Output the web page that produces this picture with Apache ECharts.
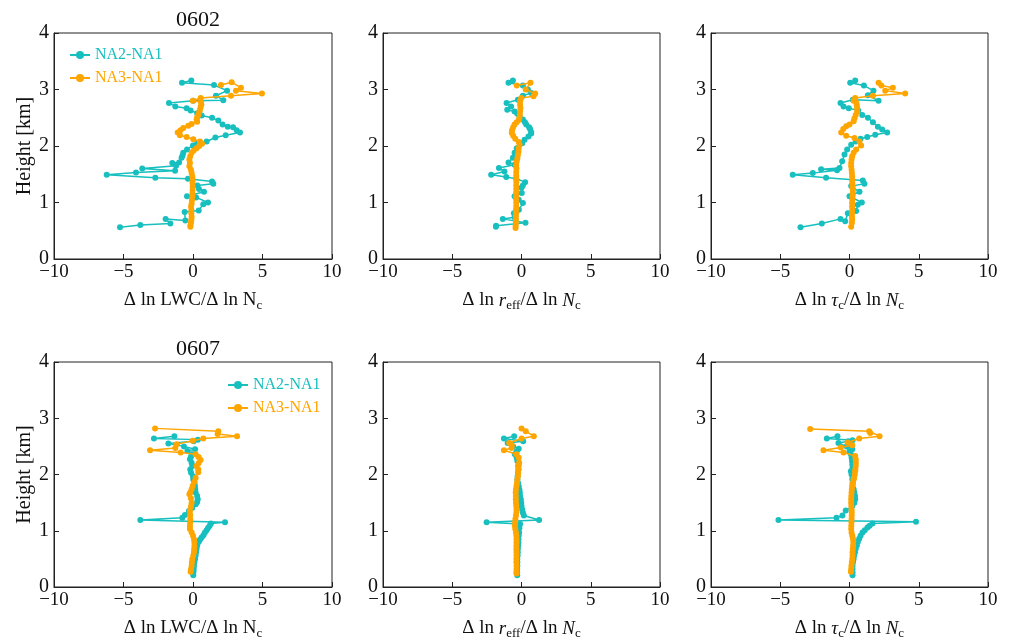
<!DOCTYPE html>
<html>
<head>
<meta charset="utf-8">
<script src="https://cdn.jsdelivr.net/npm/echarts@6/dist/echarts.min.js"></script>
<style>
  html, body { margin: 0; padding: 0; background: #fff; }
  #main { width: 1012px; height: 641px; }
</style>
</head>
<body>
<div id="main"></div>
<script>
// profiles: [value, height km]
var lwc0602NA2 = [[-0.12,3.16],[-0.79,3.12],[1.51,3.08],[2.45,2.98],[1.65,2.89],[2.18,2.81],[0.02,2.80],[-1.73,2.76],[-1.27,2.70],[-0.46,2.67],[-0.17,2.63],[0.3,2.58],[0.62,2.54],[1.37,2.50],[1.82,2.45],[2.13,2.38],[2.5,2.34],[2.88,2.33],[3.14,2.28],[3.38,2.24],[2.35,2.19],[1.61,2.15],[0.98,2.08],[0.29,2.04],[0.0,2.01],[-0.43,1.94],[-0.70,1.88],[-0.75,1.83],[-0.82,1.79],[-1.0,1.71],[-1.49,1.70],[-1.22,1.65],[-3.65,1.60],[-1.29,1.56],[-4.1,1.53],[-6.21,1.49],[-2.71,1.44],[-0.36,1.42],[1.37,1.37],[1.46,1.33],[0.31,1.30],[0.43,1.24],[0.79,1.19],[-0.43,1.11],[0.22,1.09],[1.08,1.00],[0.74,0.97],[0.41,0.86],[-0.6,0.83],[-0.55,0.68],[-1.97,0.71],[-1.63,0.63],[-3.79,0.60],[-5.25,0.56]];
var lwc0602NA3 = [[2.01,3.08],[2.78,3.13],[3.45,3.03],[3.09,2.98],[4.96,2.93],[2.73,2.89],[0.55,2.85],[-0.02,2.80],[0.58,2.78],[0.6,2.73],[0.55,2.69],[0.5,2.64],[0.45,2.60],[0.38,2.55],[0.3,2.51],[0.26,2.47],[0.3,2.43],[-0.1,2.39],[-0.34,2.36],[-0.7,2.32],[-0.9,2.28],[-1.1,2.24],[-0.94,2.19],[-0.46,2.16],[0.02,2.12],[0.5,2.08],[0.65,2.04],[0.45,2.0],[0.26,1.96],[0.05,1.92],[-0.1,1.88],[-0.2,1.82],[-0.26,1.76],[-0.22,1.70],[-0.26,1.64],[-0.15,1.58],[-0.1,1.52],[-0.05,1.46],[-0.02,1.40],[-0.03,1.34],[-0.02,1.28],[-0.03,1.22],[-0.04,1.16],[-0.05,1.10],[-0.08,1.04],[-0.1,0.98],[-0.14,0.93],[-0.12,0.87],[-0.12,0.81],[-0.1,0.75],[-0.12,0.70],[-0.14,0.65],[-0.18,0.60],[-0.19,0.57]];
var reff0602NA2 = [[-0.62,3.16],[-0.94,3.12],[0.1,3.07],[0.46,3.0],[0.7,2.94],[0.1,2.89],[-0.26,2.82],[-1.08,2.76],[-0.75,2.70],[-1.03,2.64],[-0.5,2.61],[-0.3,2.57],[-0.14,2.53],[0.1,2.47],[0.25,2.42],[0.34,2.38],[0.55,2.33],[0.62,2.30],[0.7,2.25],[0.7,2.22],[0.5,2.17],[0.22,2.11],[0.05,2.05],[-0.34,1.96],[-0.5,1.88],[-0.62,1.79],[-0.94,1.71],[-0.5,1.67],[-1.63,1.61],[-1.23,1.55],[-2.19,1.49],[-1.1,1.45],[-0.38,1.42],[0.26,1.36],[0.1,1.30],[0.0,1.26],[0.02,1.17],[-0.5,1.11],[-0.2,1.05],[0.1,0.99],[-0.19,0.87],[-0.55,0.81],[-0.5,0.74],[-1.35,0.71],[0.29,0.64],[-1.83,0.59],[-1.85,0.57]];
var reff0602NA3 = [[-0.34,3.07],[0.65,3.12],[0.3,3.0],[0.99,2.93],[0.87,2.88],[-0.02,2.85],[-0.1,2.79],[-0.1,2.73],[-0.08,2.67],[-0.1,2.61],[-0.12,2.55],[-0.15,2.50],[-0.19,2.46],[-0.35,2.42],[-0.5,2.38],[-0.6,2.33],[-0.68,2.28],[-0.7,2.23],[-0.6,2.18],[-0.45,2.13],[-0.2,2.07],[-0.14,2.02],[-0.2,1.96],[-0.22,1.90],[-0.26,1.84],[-0.3,1.78],[-0.35,1.72],[-0.38,1.66],[-0.36,1.60],[-0.38,1.54],[-0.38,1.48],[-0.38,1.42],[-0.37,1.36],[-0.38,1.30],[-0.38,1.24],[-0.38,1.18],[-0.38,1.12],[-0.39,1.06],[-0.38,1.00],[-0.38,0.94],[-0.39,0.88],[-0.39,0.82],[-0.4,0.76],[-0.4,0.70],[-0.41,0.64],[-0.42,0.59],[-0.43,0.55]];
var tau0602NA2 = [[0.41,3.16],[0.05,3.12],[1.04,3.07],[1.73,2.98],[1.33,2.90],[2.1,2.80],[0.24,2.82],[-0.65,2.76],[-0.43,2.70],[-0.05,2.67],[0.63,2.63],[0.92,2.55],[1.33,2.50],[1.69,2.42],[2.05,2.34],[2.36,2.29],[2.72,2.24],[1.86,2.20],[1.28,2.16],[0.8,2.13],[0.45,2.08],[0.12,2.02],[-0.17,1.94],[-0.36,1.85],[-0.53,1.73],[-0.72,1.61],[-2.05,1.59],[-0.9,1.57],[-2.65,1.52],[-4.1,1.49],[-1.69,1.44],[0.96,1.39],[1.08,1.33],[0.12,1.29],[0.72,1.19],[0.0,1.11],[0.89,1.00],[0.6,0.96],[0.48,0.85],[-0.12,0.81],[-0.31,0.67],[-0.65,0.71],[-2.0,0.63],[-3.54,0.56]];
var tau0602NA3 = [[2.1,3.12],[2.3,3.07],[3.13,3.03],[2.58,2.98],[4.02,2.93],[1.69,2.89],[0.41,2.85],[0.3,2.80],[0.5,2.76],[0.53,2.72],[0.55,2.67],[0.55,2.61],[0.45,2.55],[0.36,2.49],[0.3,2.44],[0.0,2.38],[-0.24,2.35],[-0.45,2.30],[-0.6,2.24],[-0.24,2.18],[0.36,2.14],[0.72,2.08],[0.84,2.01],[0.48,1.94],[0.3,1.88],[0.19,1.82],[0.15,1.76],[0.12,1.70],[0.12,1.64],[0.15,1.58],[0.17,1.52],[0.19,1.46],[0.19,1.40],[0.2,1.34],[0.22,1.28],[0.24,1.22],[0.24,1.17],[0.22,1.11],[0.2,1.05],[0.19,0.99],[0.19,0.93],[0.2,0.87],[0.19,0.81],[0.18,0.75],[0.19,0.70],[0.17,0.64],[0.12,0.57]];
var lwc0607NA2 = [[-1.34,2.68],[-2.81,2.64],[0.35,2.62],[0.05,2.59],[-1.77,2.55],[-0.65,2.50],[0.15,2.45],[-0.4,2.42],[-0.1,2.36],[-0.15,2.31],[-0.22,2.27],[-0.1,2.21],[-0.05,2.15],[-0.2,2.09],[-0.14,2.03],[0.0,1.97],[0.02,1.91],[0.1,1.85],[0.14,1.80],[0.16,1.74],[0.19,1.68],[0.3,1.62],[0.34,1.56],[0.3,1.51],[0.2,1.47],[-0.05,1.41],[-0.29,1.35],[-0.58,1.28],[-0.77,1.23],[-3.79,1.19],[2.30,1.15],[1.29,1.13],[1.2,1.09],[1.08,1.05],[0.98,1.01],[0.86,0.97],[0.75,0.92],[0.62,0.88],[0.5,0.84],[0.41,0.80],[0.3,0.74],[0.26,0.68],[0.22,0.62],[0.19,0.56],[0.15,0.50],[0.1,0.44],[0.07,0.38],[0.05,0.32],[0.04,0.27],[0.02,0.21]];
var lwc0607NA3 = [[-2.73,2.82],[1.82,2.77],[1.77,2.72],[3.17,2.68],[0.74,2.64],[-0.02,2.60],[-1.17,2.54],[-1.27,2.47],[-3.09,2.43],[-0.89,2.39],[0.19,2.36],[0.4,2.31],[0.55,2.26],[0.4,2.20],[0.26,2.15],[0.38,2.09],[0.38,2.04],[0.19,1.94],[0.1,1.87],[-0.02,1.80],[-0.1,1.74],[-0.2,1.68],[-0.26,1.65],[-0.15,1.58],[-0.1,1.50],[-0.15,1.43],[-0.22,1.35],[-0.2,1.28],[-0.2,1.21],[-0.21,1.14],[-0.22,1.08],[-0.22,1.03],[-0.1,0.97],[0.0,0.91],[0.07,0.85],[0.1,0.79],[0.1,0.73],[0.08,0.67],[0.07,0.62],[0.02,0.56],[-0.05,0.50],[-0.08,0.44],[-0.1,0.38],[-0.14,0.32],[-0.17,0.27]];
var reff0607NA2 = [[-0.53,2.68],[-1.27,2.64],[0.12,2.59],[-1.0,2.56],[-0.6,2.50],[-0.2,2.46],[-0.35,2.41],[-0.48,2.36],[-0.35,2.30],[-0.3,2.24],[-0.24,2.15],[-0.22,2.09],[-0.25,2.03],[-0.28,1.97],[-0.3,1.91],[-0.25,1.85],[-0.2,1.79],[-0.15,1.73],[-0.12,1.68],[-0.1,1.62],[-0.05,1.56],[-0.02,1.50],[0.0,1.44],[0.05,1.38],[0.1,1.32],[0.17,1.27],[1.27,1.19],[-2.52,1.15],[-0.1,1.12],[-0.15,1.05],[-0.17,0.97],[-0.2,0.91],[-0.22,0.85],[-0.22,0.79],[-0.24,0.74],[-0.26,0.68],[-0.27,0.62],[-0.28,0.56],[-0.3,0.50],[-0.3,0.44],[-0.3,0.38],[-0.31,0.32],[-0.31,0.26],[-0.31,0.21]];
var reff0607NA3 = [[0.0,2.82],[0.31,2.77],[0.89,2.68],[0.0,2.64],[-0.89,2.56],[-0.7,2.52],[-0.72,2.47],[-1.27,2.43],[-0.36,2.36],[-0.2,2.30],[-0.17,2.21],[-0.2,2.15],[-0.22,2.09],[-0.24,2.03],[-0.26,1.97],[-0.3,1.91],[-0.33,1.85],[-0.36,1.80],[-0.4,1.74],[-0.42,1.68],[-0.41,1.62],[-0.41,1.56],[-0.4,1.50],[-0.38,1.44],[-0.36,1.38],[-0.36,1.33],[-0.4,1.27],[-0.44,1.21],[-0.46,1.15],[-0.48,1.09],[-0.45,1.03],[-0.4,0.97],[-0.37,0.91],[-0.36,0.85],[-0.36,0.79],[-0.37,0.73],[-0.37,0.67],[-0.36,0.62],[-0.36,0.56],[-0.37,0.50],[-0.37,0.44],[-0.36,0.38],[-0.36,0.32],[-0.36,0.27],[-0.36,0.24]];
var tau0607NA2 = [[-0.87,2.68],[-1.64,2.64],[0.22,2.61],[-0.1,2.59],[-0.8,2.56],[-0.2,2.50],[0.2,2.45],[0.0,2.41],[0.1,2.36],[0.15,2.30],[0.18,2.24],[0.2,2.18],[0.22,2.12],[0.1,2.06],[0.15,2.00],[0.2,1.92],[0.22,1.85],[0.22,1.80],[0.3,1.74],[0.35,1.68],[0.4,1.62],[0.41,1.56],[0.35,1.50],[0.2,1.44],[-0.27,1.36],[-0.51,1.27],[-0.94,1.23],[-5.13,1.19],[4.8,1.16],[1.66,1.13],[1.45,1.09],[1.30,1.06],[1.1,1.01],[0.94,0.97],[0.8,0.91],[0.70,0.86],[0.6,0.80],[0.53,0.74],[0.45,0.68],[0.4,0.62],[0.34,0.56],[0.3,0.50],[0.25,0.44],[0.22,0.38],[0.22,0.32],[0.22,0.26],[0.22,0.21]];
var tau0607NA3 = [[-2.84,2.81],[1.42,2.77],[1.5,2.74],[2.17,2.68],[0.7,2.64],[-0.14,2.57],[0.2,2.52],[-0.63,2.48],[-1.88,2.43],[-0.43,2.39],[0.41,2.33],[0.45,2.27],[0.46,2.21],[0.45,2.15],[0.42,2.09],[0.41,2.06],[0.38,2.00],[0.33,1.94],[0.29,1.91],[0.25,1.85],[0.2,1.79],[0.17,1.74],[0.15,1.68],[0.13,1.62],[0.12,1.56],[0.12,1.50],[0.13,1.44],[0.15,1.38],[0.16,1.33],[0.16,1.27],[0.15,1.21],[0.14,1.15],[0.13,1.09],[0.12,1.03],[0.15,0.97],[0.2,0.91],[0.25,0.86],[0.27,0.80],[0.26,0.74],[0.24,0.68],[0.22,0.62],[0.22,0.56],[0.2,0.50],[0.17,0.44],[0.14,0.38],[0.12,0.32],[0.1,0.27]];

var seriesNames = ['NA2-NA1', 'NA3-NA1'];
var dates = ['0602', '0607'];
var xTicks = [-10, -5, 0, 5, 10];
var yTicks = [0, 1, 2, 3, 4];

var panels = [
    [lwc0602NA2, lwc0602NA3], [reff0602NA2, reff0602NA3], [tau0602NA2, tau0602NA3],
    [lwc0607NA2, lwc0607NA3], [reff0607NA2, reff0607NA3], [tau0607NA2, tau0607NA3]
];

var FONT = '"Liberation Serif", "DejaVu Serif", serif';
var CYAN = '#17bfbf', ORANGE = '#ffa500';
var lefts = [54, 383, 711], widths = [278, 277, 277], tops = [33, 362];

var xNames = [
    '{n|Δ ln LWC/Δ ln N}{s|c}',
    '{n|Δ ln }{i|r}{s|eff}{n|/Δ ln }{i|N}{s|c}',
    '{n|Δ ln }{i|τ}{s|c}{n|/Δ ln }{i|N}{s|c}'
];
var rich = {
    n: {fontFamily: FONT, fontSize: 19, color: '#111'},
    i: {fontFamily: FONT, fontSize: 19, fontStyle: 'italic', color: '#111'},
    s: {fontFamily: FONT, fontSize: 13, color: '#111', padding: [10, 0, 0, 0]}
};

function minus(v) { return v < 0 ? '\u2212' + (-v) : String(v); }

var grid = [], xAxis = [], yAxis = [], series = [];
for (var p = 0; p < 6; p++) {
    var r = Math.floor(p / 3), c = p % 3;
    grid.push({left: lefts[c], top: tops[r], width: widths[c], height: 226,
        show: true, borderColor: '#222', borderWidth: 1, backgroundColor: 'transparent'});
    xAxis.push({
        type: 'value', gridIndex: p, min: xTicks[0], max: xTicks[xTicks.length - 1], interval: 5,
        splitLine: {show: false},
        axisLine: {show: true, onZero: false, lineStyle: {color: '#222', width: 1}},
        axisTick: {show: true, inside: true, length: 5, lineStyle: {color: '#222'}},
        axisLabel: {fontFamily: FONT, fontSize: 19, color: '#111', margin: 4, formatter: minus},
        name: xNames[c], nameLocation: 'middle', nameGap: 30,
        nameTextStyle: {rich: rich}
    });
    yAxis.push({
        type: 'value', gridIndex: p, min: yTicks[0], max: yTicks[yTicks.length - 1], interval: 1,
        splitLine: {show: false},
        axisLine: {show: true, onZero: false, lineStyle: {color: '#222', width: 1}},
        axisTick: {show: true, inside: true, length: 5, lineStyle: {color: '#222'}},
        axisLabel: {fontFamily: FONT, fontSize: 20, color: '#111', margin: 5},
        name: c === 0 ? 'Height [km]' : '', nameLocation: 'middle', nameGap: 17,
        nameTextStyle: {fontFamily: FONT, fontSize: 20, color: '#111'}
    });
    for (var k = 0; k < 2; k++) {
        series.push({
            name: seriesNames[k], type: 'line', xAxisIndex: p, yAxisIndex: p,
            data: panels[p][k], symbol: 'circle', symbolSize: 6, showSymbol: true,
            color: k === 0 ? CYAN : ORANGE,
            lineStyle: {width: 1.5}, z: 2 + k, animation: false
        });
    }
}

function legendData() {
    return [
        {name: seriesNames[0], textStyle: {color: CYAN}},
        {name: seriesNames[1], textStyle: {color: ORANGE}}
    ];
}

var myChart = echarts.init(document.getElementById('main'));
var option = {
    backgroundColor: '#fff',
    animation: false,
    title: [
        {text: dates[0], left: 193, top: 4, textAlign: 'center',
         textStyle: {fontFamily: FONT, fontSize: 22, fontWeight: 'normal', color: '#111'}},
        {text: dates[1], left: 193, top: 333, textAlign: 'center',
         textStyle: {fontFamily: FONT, fontSize: 22, fontWeight: 'normal', color: '#111'}}
    ],
    legend: [
        {data: legendData(), left: 64, top: 42, orient: 'vertical', itemWidth: 20, itemHeight: 10,
         itemGap: 7, textStyle: {fontFamily: FONT, fontSize: 16}},
        {data: legendData(), left: 222, top: 372, orient: 'vertical', itemWidth: 20, itemHeight: 10,
         itemGap: 7, textStyle: {fontFamily: FONT, fontSize: 16}}
    ],
    grid: grid,
    xAxis: xAxis,
    yAxis: yAxis,
    series: series
};
myChart.setOption(option);
</script>
</body>
</html>
